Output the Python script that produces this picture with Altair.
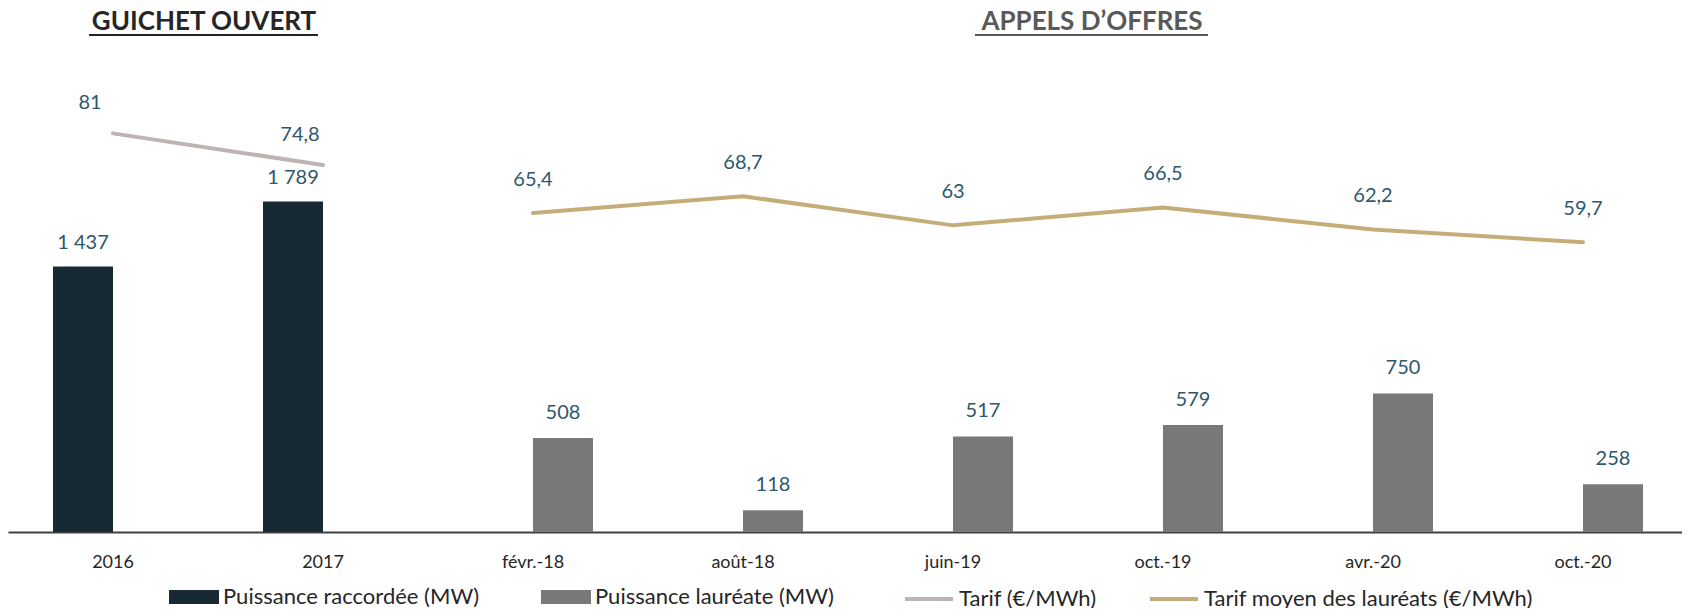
import altair as alt
import pandas as pd

categories = ["2016", "2017", "févr.-18", "août-18", "juin-19", "oct.-19", "avr.-20", "oct.-20"]
puissance_raccordee = [1437, 1789, None, None, None, None, None, None]
puissance_laureate = [None, None, 508, 118, 517, 579, 750, 258]
tarif = [81, 74.8, None, None, None, None, None, None]
tarif_moyen = [None, None, 65.4, 68.7, 63, 66.5, 62.2, 59.7]
series_names = ["Puissance raccordée (MW)", "Puissance lauréate (MW)",
                "Tarif (€/MWh)", "Tarif moyen des lauréats (€/MWh)"]
section_titles = ["GUICHET OUVERT", "APPELS D’OFFRES"]

FONT = "Lato"
LBL = "#2C5870"
C_RACC = "#172A33"
C_LAUR = "#7B7977"
C_TARIF = "#BEB4B4"
C_MOYEN = "#C4AD79"


def fr(v):
    if float(v).is_integer():
        return f"{int(v):,}".replace(",", "\u00a0")
    return f"{v}".replace(".", ",")


def long(values, name):
    rows = []
    for c, v in zip(categories, values):
        if v is not None:
            rows.append({"cat": c, "series": name, "value": v, "label": fr(v)})
    return pd.DataFrame(rows)


df_r = long(puissance_raccordee, series_names[0])
df_l = long(puissance_laureate, series_names[1])
df_lines = pd.concat([long(tarif, series_names[2]), long(tarif_moyen, series_names[3])])
df_t = long(tarif, series_names[2])
df_m = long(tarif_moyen, series_names[3])

xenc = alt.X(
    "cat:N", sort=categories,
    scale=alt.Scale(domain=categories, paddingInner=0, paddingOuter=0, range=[0, 1680]),
    axis=alt.Axis(title=None, labelAngle=0, ticks=False, domainColor="#404040",
                  domainWidth=2, labelFont=FONT, labelFontSize=18,
                  labelColor="#262626", labelPadding=21, grid=False),
)
ybar = alt.Y("value:Q", scale=alt.Scale(domain=[0, 2500], nice=False, zero=True), axis=None)
yline = alt.Y("value:Q", scale=alt.Scale(domain=[3, 93.4], nice=False, zero=False), axis=None)

fill_scale = alt.Scale(domain=series_names[:2], range=[C_RACC, C_LAUR])
fill_legend = alt.Legend(
    orient="none", legendX=161, legendY=502, direction="horizontal", title=None,
    symbolType="M-1,-0.28H1V0.28H-1Z", symbolSize=2500, symbolStrokeWidth=0,
    symbolOpacity=1, labelFont=FONT, labelFontSize=22, labelColor="#262626",
    labelOffset=4, columnPadding=61, labelLimit=400,
)
stroke_scale = alt.Scale(domain=series_names[2:], range=[C_TARIF, C_MOYEN])
stroke_legend = alt.Legend(
    orient="none", legendX=895, legendY=503, direction="horizontal", title=None,
    symbolType="M-1,0H1", symbolSize=2304, symbolStrokeWidth=4,
    labelFont=FONT, labelFontSize=22, labelColor="#262626",
    labelOffset=4, columnPadding=45, labelLimit=400,
)

bars_r = alt.Chart(df_r).mark_bar(width=60, xOffset=-30).encode(
    x=xenc, y=ybar, fill=alt.Fill("series:N", scale=fill_scale, legend=fill_legend))
bars_l = alt.Chart(df_l).mark_bar(width=60, xOffset=30).encode(
    x=xenc, y=ybar, fill=alt.Fill("series:N", scale=fill_scale, legend=fill_legend))
lab_r = alt.Chart(df_r).mark_text(dx=-30, dy=-23, baseline="middle", font=FONT,
                                  fontSize=20, color=LBL).encode(x=xenc, y=ybar, text="label:N")
lab_l = alt.Chart(df_l).mark_text(dx=30, dy=-25, baseline="middle", font=FONT,
                                  fontSize=20, color=LBL).encode(x=xenc, y=ybar, text="label:N")

lines = alt.Chart(df_lines).mark_line(strokeWidth=4, strokeCap="round").encode(
    x=xenc, y=yline, stroke=alt.Stroke("series:N", scale=stroke_scale, legend=stroke_legend),
    detail="series:N")
lab_t = alt.Chart(df_t).mark_text(dx=-23, dy=-30, baseline="middle", font=FONT,
                                  fontSize=20, color=LBL).encode(x=xenc, y=yline, text="label:N")
lab_m = alt.Chart(df_m).mark_text(dy=-33, baseline="middle", font=FONT,
                                  fontSize=20, color=LBL).encode(x=xenc, y=yline, text="label:N")

t1 = alt.Chart(pd.DataFrame({"t": [section_titles[0]]})).mark_text(
    font=FONT, fontSize=26, fontWeight="bold", color="#262626", baseline="alphabetic",
    align="center").encode(text="t:N", x=alt.value(196), y=alt.value(-40))
t2 = alt.Chart(pd.DataFrame({"t": [section_titles[1]]})).mark_text(
    font=FONT, fontSize=26, fontWeight="bold", color="#595959", baseline="alphabetic",
    align="center").encode(text="t:N", x=alt.value(1084), y=alt.value(-40))
u1 = alt.Chart(pd.DataFrame({"t": [0]})).mark_rule(color="#262626", strokeWidth=2).encode(
    x=alt.value(81), x2=alt.value(310), y=alt.value(-35))
u2 = alt.Chart(pd.DataFrame({"t": [0]})).mark_rule(color="#595959", strokeWidth=2).encode(
    x=alt.value(967), x2=alt.value(1200), y=alt.value(-35))

bar_layer = alt.layer(bars_r, bars_l, lab_r, lab_l)
line_layer = alt.layer(lines, lab_t, lab_m)

chart = alt.layer(bar_layer, line_layer, t1, t2, u1, u2).resolve_scale(
    y="independent"
).properties(
    width=1674, height=462,
    padding={"left": 0, "top": 62, "right": 0, "bottom": 76},
    autosize=alt.AutoSizeParams(type="none"),
).configure_view(stroke=None)

chart.save("out.html", embed_options={"renderer": "svg", "actions": False})
